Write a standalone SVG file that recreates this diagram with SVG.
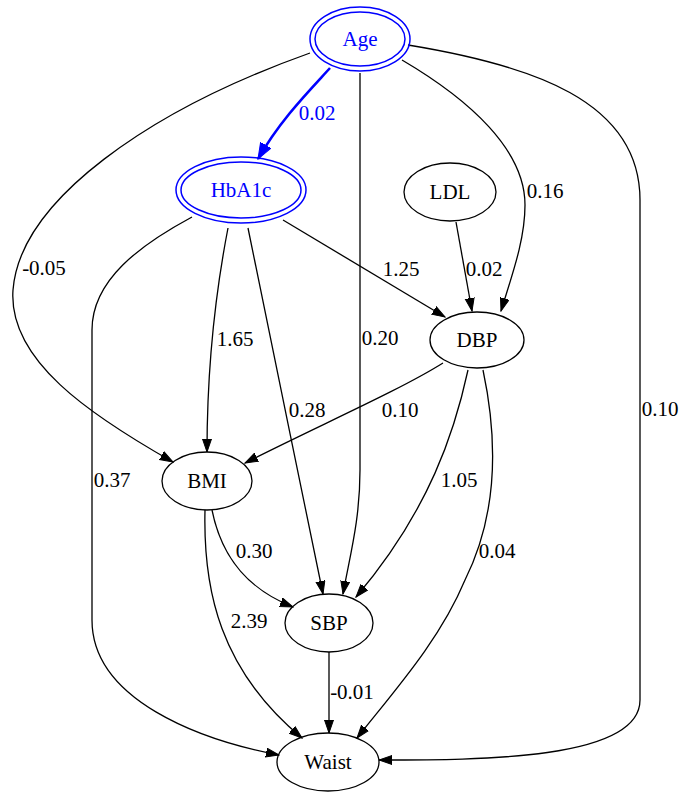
<svg xmlns="http://www.w3.org/2000/svg" width="681" height="796" viewBox="0 0 681 796">
<style>
text{font-family:"Liberation Serif","Times New Roman",serif;font-size:21px;text-anchor:middle}
.n ellipse{fill:none;stroke:#000;stroke-width:1.3}
.b ellipse{fill:none;stroke:#0000ff;stroke-width:1.5}
.b text{fill:#0000ff}
.e path{fill:none;stroke:#000;stroke-width:1.3;marker-end:url(#ah)}
.e path.blue{stroke:#0000ff;stroke-width:2.6;marker-end:url(#ahb)}
.e text.blue{fill:#0000ff}
</style>
<defs>
<marker id="ah" markerWidth="14" markerHeight="11" refX="13" refY="5" orient="auto" markerUnits="userSpaceOnUse"><path d="M0,0.5 L13,5 L0,9.5z" fill="#000" stroke="#000" stroke-width="1"/></marker>
<marker id="ahb" markerWidth="17" markerHeight="14" refX="16" refY="6.5" orient="auto" markerUnits="userSpaceOnUse"><path d="M0,0.5 L16,6.5 L0,12.5z" fill="#0000ff" stroke="#0000ff" stroke-width="1"/></marker>
</defs>
<rect width="681" height="796" fill="#fff"/>
<g id="edges" class="e">
<path class="blue" d="M330,68 C310,90 280,120 258,159"/>
<path d="M310,53 C150,110 20,200 13,290 C8,360 90,415 173,462"/>
<path d="M360,73 L360,470 C360,520 350,555 343,594"/>
<path d="M402,60 C470,100 525,150 525,205 C525,240 512,275 501,311"/>
<path d="M408,45 C530,65 640,100 640,200 L640,700 C640,760 480,760 379,760"/>
<path d="M283,220 L445,317"/>
<path d="M228,228 C216,290 207,370 207,452"/>
<path d="M248,228 C268,330 300,480 323,594"/>
<path d="M192,217 C140,245 92,280 92,330 L92,620 C92,700 200,740 279,755"/>
<path d="M456,222 L472,311"/>
<path d="M443,363 C400,390 320,425 245,463"/>
<path d="M468,370 C455,430 430,510 356,597"/>
<path d="M483,370 C500,450 495,520 465,580 C440,640 395,690 357,738"/>
<path d="M212,510 C222,560 250,590 293,607"/>
<path d="M205,510 C203,590 220,670 302,738"/>
<path d="M329,652 L329,733"/>
<text class="blue" x="317" y="120">0.02</text>
<text x="44" y="275">-0.05</text>
<text x="380" y="345">0.20</text>
<text x="545" y="198">0.16</text>
<text x="660" y="416">0.10</text>
<text x="401" y="276">1.25</text>
<text x="484" y="276">0.02</text>
<text x="235" y="346">1.65</text>
<text x="307" y="417">0.28</text>
<text x="112" y="487">0.37</text>
<text x="400" y="417">0.10</text>
<text x="459" y="487">1.05</text>
<text x="497" y="558">0.04</text>
<text x="254" y="558">0.30</text>
<text x="249" y="628">2.39</text>
<text x="352" y="699">-0.01</text>
</g>
<g id="Age" class="b"><ellipse cx="360" cy="39" rx="50" ry="32"/><ellipse cx="360" cy="39" rx="45" ry="27"/><text x="360" y="46">Age</text></g>
<g id="HbA1c" class="b"><ellipse cx="241" cy="190" rx="65" ry="33"/><ellipse cx="241" cy="190" rx="60" ry="28"/><text x="241" y="197">HbA1c</text></g>
<g id="LDL" class="n"><ellipse cx="450" cy="192" rx="46" ry="29"/><text x="450" y="199">LDL</text></g>
<g id="DBP" class="n"><ellipse cx="477" cy="340" rx="47" ry="28"/><text x="477" y="347">DBP</text></g>
<g id="BMI" class="n"><ellipse cx="207" cy="481" rx="45" ry="29"/><text x="207" y="488">BMI</text></g>
<g id="SBP" class="n"><ellipse cx="329" cy="623" rx="44" ry="29"/><text x="329" y="630">SBP</text></g>
<g id="Waist" class="n"><ellipse cx="328" cy="762" rx="51" ry="29"/><text x="328" y="769">Waist</text></g>
</svg>
